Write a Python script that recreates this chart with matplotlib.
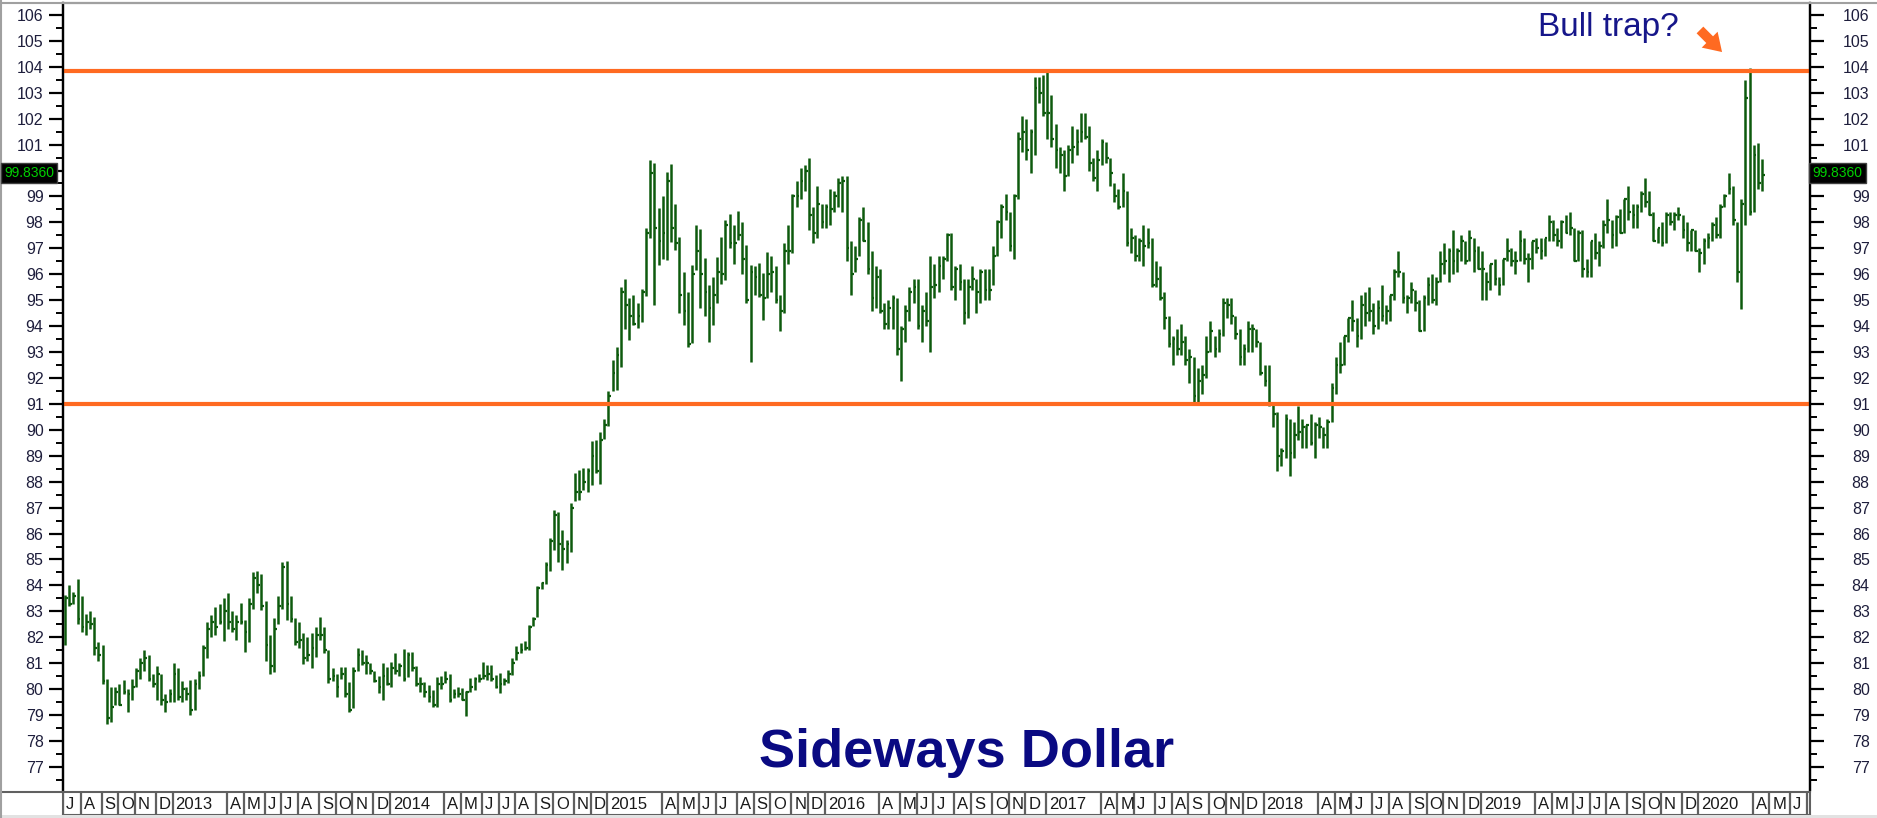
import matplotlib

matplotlib.use("Agg")
import matplotlib.pyplot as plt  # noqa: E402
import numpy as np  # noqa: E402
import pandas as pd  # noqa: E402
from matplotlib.lines import Line2D  # noqa: E402
from matplotlib.patches import Rectangle  # noqa: E402
from matplotlib.ticker import FixedLocator, FuncFormatter  # noqa: E402

# Weekly Dollar Index bars (week ending Friday), first bar = 2012-07-06
high_2012 = [83.63, 84.0, 83.76, 84.25, 83.6, 82.9, 83.0, 82.8, 81.8, 81.7, 80.4, 80.1, 80.1,
             80.2, 80.35, 80.0, 80.4, 80.8, 81.2, 81.5, 81.3, 80.6, 80.9, 80.6, 79.8, 80.0]
low_2012 = [81.7, 83.2, 83.3, 82.5, 82.2, 82.1, 82.3, 81.3, 81.1, 80.2, 78.66, 78.75, 79.4,
            79.4, 79.8, 79.1, 79.6, 80.1, 80.4, 80.7, 80.3, 80.1, 79.6, 79.4, 79.1, 79.5]
close_2012 = [83.5, 83.3, 83.6, 82.7, 82.4, 82.6, 82.5, 81.6, 81.3, 80.3, 78.9, 79.3, 79.9,
              79.4, 79.9, 79.8, 80.1, 80.7, 81.0, 81.2, 80.4, 80.2, 80.6, 79.6, 79.5, 79.8]

high_2013 = [81.0, 80.8, 80.3, 80.1, 80.35, 80.4, 80.7, 81.7, 82.6, 82.86, 83.18, 83.3, 83.5,
             83.7, 83.0, 82.86, 83.33, 82.67, 83.5, 84.53, 84.57, 84.44, 83.4, 82.1, 82.73, 83.59,
             84.9, 84.95, 83.59, 82.73, 82.6, 82.18, 82.0, 82.15, 82.4, 82.8, 82.4, 81.5, 80.8,
             80.6, 80.87, 80.87, 80.29, 80.87, 81.58, 81.5, 81.3, 81.0, 80.68, 80.5, 81.02, 80.87]
low_2013 = [79.5, 79.6, 79.5, 79.6, 79.0, 79.2, 80.0, 80.5, 81.2, 82.0, 82.1, 82.5, 81.87,
            82.3, 82.2, 81.9, 82.5, 81.44, 81.83, 83.1, 83.7, 83.05, 81.1, 80.58, 80.67, 82.5,
            83.1, 82.66, 82.6, 81.7, 81.57, 80.97, 81.1, 80.8, 81.25, 81.9, 81.4, 80.22, 80.3,
            79.7, 80.4, 79.7, 79.13, 79.26, 80.68, 80.93, 80.6, 80.6, 80.29, 79.84, 79.6, 80.16]
close_2013 = [80.6, 79.7, 80.0, 79.8, 79.2, 80.2, 80.5, 81.6, 82.3, 82.6, 82.4, 82.6, 83.0,
              82.6, 82.3, 82.6, 82.6, 82.2, 83.3, 84.3, 84.0, 83.2, 81.7, 80.9, 82.3, 83.2,
              84.7, 83.3, 82.7, 81.8, 81.9, 81.2, 81.3, 81.6, 82.1, 82.1, 81.5, 80.4, 80.5,
              80.1, 80.6, 79.8, 79.2, 80.7, 81.3, 81.0, 81.0, 80.7, 80.3, 80.1, 80.5, 80.2]

high_2014 = [81.06, 81.4, 81.0, 81.54, 81.45, 81.45, 80.9, 80.46, 80.29, 80.16, 79.97, 80.46,
             80.5, 80.7, 80.6, 80.0, 80.1, 80.03, 79.94, 80.42, 80.48, 80.6, 81.06, 80.93, 80.94,
             80.55, 80.62, 80.43, 80.75, 81.2, 81.65, 81.77, 81.84, 82.48, 82.8, 83.96, 84.15,
             84.92, 85.82, 86.92, 86.85, 86.14, 85.76, 87.17, 88.33, 88.46, 88.52, 88.52, 89.55,
             89.62, 89.9, 90.41]
low_2014 = [80.1, 80.6, 80.5, 80.3, 80.46, 80.68, 80.13, 79.9, 79.71, 79.5, 79.33, 79.33, 80.0,
            80.25, 79.5, 79.65, 79.7, 79.58, 78.97, 79.9, 79.97, 80.29, 80.38, 80.36, 80.3, 80.04,
            79.87, 80.17, 80.23, 80.55, 81.13, 81.39, 81.52, 81.52, 82.42, 82.8, 83.86, 84.06,
            84.54, 85.37, 84.92, 84.58, 84.88, 85.3, 87.24, 87.3, 87.69, 87.62, 87.88, 88.33,
            87.92, 89.64]
close_2014 = [80.8, 80.7, 80.9, 80.4, 81.3, 80.8, 80.2, 80.2, 79.9, 79.7, 79.4, 80.2, 80.2,
              80.4, 79.6, 79.8, 79.8, 79.6, 79.9, 80.1, 80.4, 80.4, 80.5, 80.6, 80.4, 80.1,
              80.2, 80.3, 80.6, 81.0, 81.4, 81.5, 81.6, 82.4, 82.7, 83.9, 84.1, 84.8, 85.7,
              86.7, 85.6, 85.4, 85.6, 87.0, 87.6, 87.6, 88.0, 88.4, 89.0, 88.4, 89.6, 90.2]

high_2015 = [91.48, 92.7, 93.2, 95.5, 95.8, 95.07, 95.2, 94.9, 95.42, 97.77, 100.4, 100.3,
             98.55, 99.0, 99.96, 100.25, 98.71, 97.45, 96.1, 95.33, 96.36, 97.9, 97.73, 96.62,
             95.59, 95.88, 96.68, 97.45, 98.1, 98.33, 97.9, 98.42, 98.03, 97.13, 96.36, 96.3,
             96.45, 96.04, 96.87, 96.7, 96.3, 95.2, 97.2, 97.9, 99.1, 99.6, 100.1, 100.2, 100.5,
             98.6, 99.4, 98.7]
low_2015 = [90.13, 91.48, 91.54, 92.44, 93.9, 93.47, 94.05, 93.92, 94.14, 95.16, 97.39, 94.82,
            96.36, 96.58, 96.55, 97.26, 96.94, 94.52, 94.05, 93.21, 93.34, 96.17, 94.69, 94.4,
            93.37, 94.05, 94.9, 95.63, 95.78, 97.0, 96.4, 97.32, 96.0, 94.88, 92.6, 95.2, 95.14,
            94.24, 95.07, 95.33, 94.9, 93.8, 94.5, 96.4, 96.8, 98.6, 98.9, 99.2, 97.7, 97.2,
            97.4, 97.8]
close_2015 = [91.3, 92.2, 92.9, 95.3, 94.8, 94.4, 94.1, 94.4, 95.3, 97.6, 99.9, 97.8, 97.3,
              97.6, 99.6, 97.8, 97.2, 95.2, 94.6, 93.3, 96.0, 96.9, 96.0, 95.3, 94.7, 95.2, 96.1,
              96.0, 97.9, 97.2, 97.2, 97.5, 96.6, 95.0, 96.1, 95.9, 95.2, 95.1, 96.0, 96.1, 95.0,
              94.6, 96.9, 96.9, 99.0, 99.0, 99.6, 100.0, 98.3, 97.6, 98.7, 98.0]

high_2016 = [98.7, 99.3, 99.2, 99.7, 99.8, 99.8, 97.3, 97.1, 98.2, 98.6, 98.0, 96.9, 96.3,
             96.2, 94.9, 95.0, 95.2, 95.1, 94.0, 94.8, 95.5, 95.8, 95.8, 94.8, 95.3, 96.7, 96.4,
             96.7, 96.7, 97.6, 97.6, 96.3, 96.4, 95.8, 95.8, 96.3, 95.8, 96.2, 96.2, 96.2, 97.1,
             98.1, 98.7, 99.1, 98.4, 99.1, 101.5, 102.1, 102.0, 101.6, 103.6, 103.6, 103.7]
low_2016 = [97.8, 97.9, 98.4, 98.6, 98.4, 96.5, 95.2, 96.1, 96.7, 97.3, 96.0, 94.6, 94.7,
            94.5, 93.9, 93.9, 93.9, 92.9, 91.9, 93.4, 94.2, 94.9, 93.9, 93.4, 94.0, 93.0, 95.1,
            95.3, 95.8, 96.5, 95.4, 95.0, 95.4, 94.1, 94.3, 95.4, 94.5, 94.9, 95.0, 95.0, 95.6,
            96.7, 97.4, 98.1, 96.9, 96.6, 98.9, 100.7, 100.4, 99.9, 100.6, 102.6, 102.1]
close_2016 = [98.6, 98.5, 99.0, 99.5, 99.6, 97.0, 96.0, 96.6, 98.1, 97.3, 96.2, 95.1, 95.9,
              94.6, 94.1, 94.7, 95.1, 93.1, 93.9, 94.6, 95.3, 95.5, 94.0, 94.6, 94.2, 95.5, 95.6,
              96.3, 96.6, 97.5, 95.5, 96.2, 95.7, 94.5, 95.5, 95.8, 95.3, 96.1, 95.4, 95.4, 96.7,
              98.0, 98.6, 98.4, 97.1, 99.0, 101.2, 101.5, 100.8, 101.5, 103.2, 103.0, 102.2]

high_2017 = [103.8, 102.9, 101.8, 100.9, 100.8, 101.0, 101.7, 101.6, 102.2, 102.2, 101.7,
             100.5, 100.8, 101.2, 101.1, 100.5, 99.5, 99.3, 99.9, 99.2, 97.8, 97.5, 97.4, 97.9,
             97.8, 97.4, 96.5, 96.3, 95.3, 94.4, 93.6, 93.9, 94.1, 93.6, 93.1, 92.8, 92.4, 92.5,
             93.6, 94.2, 93.6, 93.9, 95.1, 95.1, 95.1, 94.4, 93.9, 93.3, 94.2, 94.1, 93.9, 93.4]
low_2017 = [101.2, 100.9, 100.1, 99.9, 99.2, 99.8, 100.3, 100.6, 101.1, 101.2, 100.0, 99.6,
            99.2, 100.2, 100.3, 99.4, 98.8, 98.5, 98.6, 97.1, 96.8, 96.5, 96.5, 96.3, 97.0, 95.5,
            95.5, 95.0, 93.9, 93.2, 92.5, 92.9, 92.9, 92.5, 91.8, 91.0, 91.0, 91.4, 92.0, 93.0,
            92.8, 93.0, 93.6, 94.3, 94.1, 93.5, 92.5, 92.5, 93.0, 93.0, 93.2, 92.1]
close_2017 = [102.2, 101.2, 100.8, 100.6, 99.8, 100.8, 100.9, 101.1, 101.5, 101.3, 100.3,
              99.7, 100.4, 101.1, 100.5, 99.9, 99.0, 98.6, 99.2, 97.2, 97.4, 96.7, 97.3, 97.1,
              97.2, 95.6, 95.8, 95.1, 94.3, 93.3, 93.5, 93.1, 93.4, 92.7, 92.8, 91.3, 91.9, 92.1,
              93.0, 93.8, 93.1, 93.7, 94.9, 94.8, 94.4, 93.7, 92.8, 93.1, 93.9, 93.9, 93.4, 92.2]

high_2018 = [92.5, 92.5, 91.0, 90.7, 89.3, 90.6, 90.4, 90.3, 90.9, 90.4, 90.2, 90.6, 90.3,
             90.5, 90.1, 90.4, 91.8, 92.8, 93.4, 93.6, 94.3, 95.0, 94.3, 95.2, 95.3, 95.5, 94.9,
             95.0, 95.6, 94.8, 95.2, 96.2, 96.9, 96.1, 95.2, 95.7, 95.4, 95.0, 95.2, 95.9, 96.0,
             95.9, 96.9, 97.2, 97.0, 97.7, 97.0, 97.5, 97.3, 97.7, 97.4, 97.1]
low_2018 = [91.7, 90.9, 90.1, 88.4, 88.6, 88.9, 88.2, 88.9, 89.6, 89.3, 89.3, 89.4, 88.9,
            89.7, 89.3, 89.3, 90.3, 91.4, 92.2, 92.5, 93.4, 93.8, 93.2, 93.5, 94.0, 94.2, 93.7,
            93.9, 94.2, 94.1, 94.2, 95.0, 95.9, 94.9, 94.5, 94.9, 94.6, 93.8, 93.8, 94.8, 94.9,
            94.8, 95.7, 96.0, 95.7, 96.0, 96.1, 96.5, 96.4, 96.5, 96.1, 96.2]
close_2018 = [91.9, 91.0, 90.6, 89.0, 89.2, 90.4, 89.1, 89.8, 89.9, 90.1, 90.2, 89.5, 90.2,
              90.1, 89.8, 90.3, 91.6, 92.5, 92.5, 93.6, 94.3, 94.2, 93.6, 94.8, 94.5, 94.6, 94.0,
              94.7, 94.4, 94.6, 95.2, 96.1, 96.1, 95.1, 95.1, 95.4, 94.9, 93.8, 95.1, 95.6, 95.0,
              95.7, 96.4, 96.5, 96.9, 96.5, 96.9, 97.3, 96.5, 97.4, 96.9, 96.2]

high_2019 = [96.9, 96.1, 96.4, 96.6, 95.9, 96.6, 97.4, 97.0, 96.9, 97.7, 97.4, 96.8, 97.3,
             97.4, 97.4, 97.4, 98.3, 98.1, 97.8, 98.1, 98.3, 98.4, 97.8, 97.7, 97.7, 96.6, 97.3,
             97.6, 97.3, 98.1, 98.9, 98.1, 98.3, 98.5, 98.9, 99.4, 98.7, 98.7, 99.2, 99.7, 99.2,
             98.4, 97.8, 98.0, 98.4, 98.4, 98.4, 98.6, 98.3, 98.0, 97.7, 97.7]
low_2019 = [95.0, 95.0, 95.4, 95.6, 95.2, 95.6, 96.5, 96.3, 96.0, 96.5, 96.4, 95.7, 96.2,
            96.8, 96.6, 96.7, 97.3, 97.3, 97.1, 97.0, 97.6, 97.5, 96.5, 96.5, 95.9, 95.9, 95.9,
            96.6, 96.3, 97.0, 97.6, 97.0, 97.1, 97.6, 97.6, 98.1, 97.8, 97.8, 98.4, 98.6, 98.3,
            97.3, 97.2, 97.1, 97.2, 97.9, 97.7, 98.1, 97.4, 96.9, 96.9, 96.9]
close_2019 = [96.2, 95.7, 96.4, 95.8, 95.6, 96.6, 96.9, 96.5, 96.5, 97.3, 96.6, 96.6, 97.3,
              97.0, 96.9, 97.4, 98.0, 97.5, 97.3, 98.0, 97.6, 97.8, 96.5, 97.6, 96.2, 96.1, 97.3,
              96.8, 97.1, 97.9, 98.1, 97.5, 98.2, 97.6, 98.9, 98.4, 98.3, 98.6, 99.1, 98.8, 98.3,
              97.3, 97.8, 97.2, 98.3, 98.0, 98.3, 98.3, 97.7, 97.2, 97.7, 96.9]

high_2020 = [97.0, 97.4, 97.6, 98.0, 98.2, 98.7, 99.1, 99.9, 99.4, 98.0, 98.9, 103.5, 103.96,
             101.0, 101.05, 100.45]
low_2020 = [96.1, 96.4, 97.0, 97.3, 97.4, 97.4, 98.6, 99.1, 97.9, 95.7, 94.65, 97.9, 98.3,
            98.4, 99.3, 99.2]
close_2020 = [96.8, 97.3, 97.4, 97.9, 97.5, 98.6, 99.0, 99.3, 98.1, 96.1, 98.7, 102.8, 98.4,
              100.6, 99.5, 99.84]

last_price = "99.8360"
resistance = 103.83
support = 91.0

FIRST_WEEK = "2012-07-06"
AXIS_END_WEEK = "2020-07-03"

W, H = 1877, 818
BAR_GREEN = "#0d5a0d"
ORANGE = "#ff6a21"
NAVY = "#0a0a82"
LABEL = "#1e1e3c"

plt.rcParams["font.family"] = ["Liberation Sans", "DejaVu Sans"]


def fx(px):
    return px / W


def fy(py):
    return 1 - py / H


highs = np.array(high_2012 + high_2013 + high_2014 + high_2015 + high_2016
                 + high_2017 + high_2018 + high_2019 + high_2020)
lows = np.array(low_2012 + low_2013 + low_2014 + low_2015 + low_2016
                + low_2017 + low_2018 + low_2019 + low_2020)
closes = np.array(close_2012 + close_2013 + close_2014 + close_2015 + close_2016
                  + close_2017 + close_2018 + close_2019 + close_2020)
xs = np.arange(len(highs))

weeks = pd.date_range(FIRST_WEEK, AXIS_END_WEEK, freq="W-FRI")
x_left, x_right = -0.48, 417.46

fig = plt.figure(figsize=(W / 100, H / 100), dpi=100)
fig.patch.set_facecolor("white")

ax = fig.add_axes([fx(63), fy(790), fx(1810) - fx(63), fy(3) - fy(790)])
ax.set_xlim(x_left, x_right)
ax.set_ylim(76.11, 106.46)

ax.axhline(resistance, color=ORANGE, lw=3.0, zorder=4)
ax.axhline(support, color=ORANGE, lw=3.0, zorder=4)

ax.vlines(xs, lows, highs, colors=BAR_GREEN, lw=1.8, zorder=3)
ax.hlines(closes, xs, xs + 0.65, colors=BAR_GREEN, lw=1.6, zorder=3)

majors = np.arange(77, 107)
minors = np.arange(76.5, 106.5, 0.5)
fmt = FuncFormatter(lambda v, _: "" if abs(v - 100) < 1e-6 else f"{v:.0f}")

ax.set_xticks([])
ax.yaxis.set_major_locator(FixedLocator(majors))
ax.yaxis.set_minor_locator(FixedLocator(minors))
ax.yaxis.set_major_formatter(fmt)
ax.tick_params(axis="y", which="major", length=10, width=1.6, color="black",
               labelsize=11.5, labelcolor=LABEL, pad=4)
ax.tick_params(axis="y", which="minor", length=5, width=1.4, color="black")

ax2 = ax.twinx()
ax2.set_ylim(ax.get_ylim())
ax2.yaxis.set_major_locator(FixedLocator(majors))
ax2.yaxis.set_minor_locator(FixedLocator(minors))
ax2.yaxis.set_major_formatter(fmt)
ax2.tick_params(axis="y", which="major", length=10, width=1.6, color="black",
                labelsize=11.5, labelcolor=LABEL, pad=33)
ax2.tick_params(axis="y", which="minor", length=5, width=1.4, color="black")
for lbl in ax2.get_yticklabels():
    lbl.set_horizontalalignment("right")

for a in (ax, ax2):
    a.spines["bottom"].set_visible(False)
    a.spines["top"].set_color("#a0a0a0")
    a.spines["top"].set_linewidth(1.5)
    a.spines["left"].set_linewidth(1.6)
    a.spines["right"].set_linewidth(1.6)

# date strip under the chart
axd = fig.add_axes([fx(63), fy(815), fx(1810) - fx(63), fy(792) - fy(815)])
axd.set_xlim(x_left, x_right)
axd.set_ylim(0, 1)
axd.set_xticks([])
axd.set_yticks([])
for s in axd.spines.values():
    s.set_color("#606060")
    s.set_linewidth(1.5)

initials = "JFMAMJJASOND"
for i, d in enumerate(weeks):
    if i > 0 and d.month == weeks[i - 1].month:
        continue
    if d.month in (2, 3):
        continue
    sep = i - 0.25 if i > 0 else x_left
    axd.axvline(sep, color="#606060", lw=1.6)
    label = str(d.year) if d.month == 1 else initials[d.month - 1]
    axd.text(sep + 0.7, 0.45, label, ha="left", va="center", fontsize=12,
             color="#1a1a1a", clip_on=True)

# frame bits around the chart
fig.patches.append(Rectangle((0, 0), 1, fy(815), transform=fig.transFigure,
                             facecolor="#e2e2e2", edgecolor="none", zorder=0))
fig.lines.append(Line2D([0, 1], [fy(3), fy(3)], transform=fig.transFigure,
                        color="#a0a0a0", lw=1.5))
fig.lines.append(Line2D([0, fx(63)], [fy(792), fy(792)], transform=fig.transFigure,
                        color="#606060", lw=1.5))
fig.lines.append(Line2D([fx(1), fx(1)], [0, 1], transform=fig.transFigure,
                        color="#a0a0a0", lw=1.5))

# last price boxes
box = dict(boxstyle="square,pad=0.25", facecolor="black", edgecolor="#404040", lw=1)
for cx in (29, 1837.5):
    fig.text(fx(cx), fy(173), last_price, ha="center", va="center", fontsize=10,
             color="#00d000", bbox=box, zorder=10)

fig.text(fx(967), fy(767), "Sideways Dollar", ha="center", va="baseline",
         fontsize=39, fontweight="bold", color=NAVY)
fig.text(fx(1608), fy(36), "Bull trap?", ha="center", va="baseline",
         fontsize=24, color="#16168a")

ax.annotate("", xy=(fx(1724), fy(54)), xytext=(fx(1698), fy(28)),
            xycoords="figure fraction", textcoords="figure fraction",
            arrowprops=dict(arrowstyle="simple,head_length=0.7,head_width=0.9,tail_width=0.38",
                            color=ORANGE, lw=0, mutation_scale=18))

fig.savefig("out.png", dpi=100)
